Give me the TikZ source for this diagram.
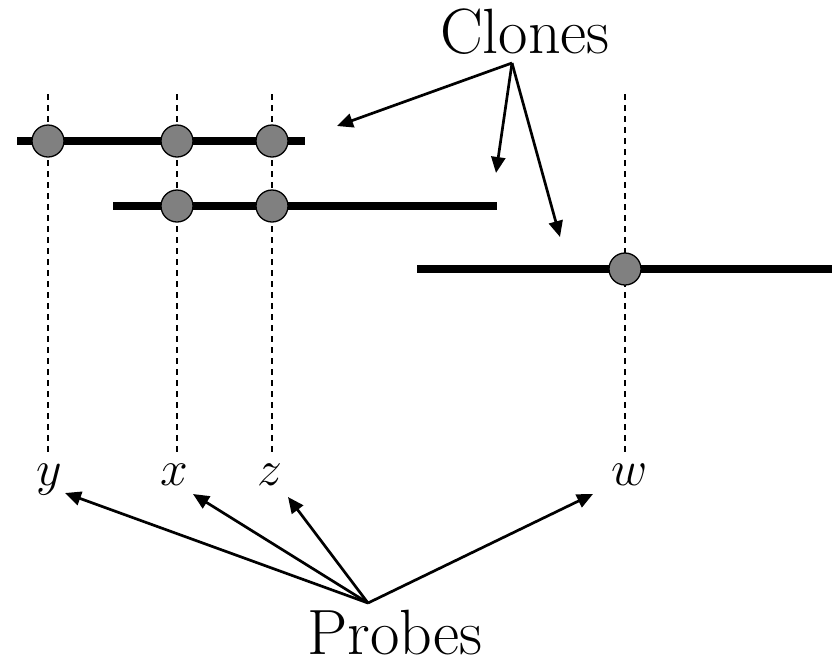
\documentclass[tikz,border=0pt]{standalone}
\usetikzlibrary{arrows.meta}
\definecolor{DotGray}{RGB}{128, 128, 128}

\begin{document}
\begin{tikzpicture}[x=0.5pt, y=-0.5pt,
    clone/.style={line width=4pt},
    probeline/.style={dash pattern=on 3pt off 2.5pt, line width=0.75pt},
    hit/.style={circle, draw, fill=DotGray, line width=0.65pt, minimum size=16pt, inner sep=0pt},
    pointer/.style={line width=1.35pt, -{Triangle[length=8pt, width=7pt]}},
    bigtext/.style={font=\fontsize{32}{38}\selectfont, anchor=base, inner sep=1pt},
    varname/.style={font=\fontsize{37}{44}\selectfont, anchor=base}]

\useasboundingbox (0,0) rectangle (836,665);

% Probes: dashed guide with its variable below
\foreach \name/\px/\lx in {y/48/49, x/177/174, z/272/270, w/625/630}{
    \node[varname] (l\name) at (\lx,485) {$\name$};
    \coordinate (t\name) at (\px,94);
    \draw[probeline] (t\name) -- (t\name |- l\name.north);
}

% Clones
\draw[clone] (17,141) -- (305,141);
\draw[clone] (113,206) -- (497,206);
\draw[clone] (417,269) -- (832,269);

% Hits of probes on clones
\foreach \px in {48,177,272}
    \node[hit] (a\px) at (\px,141) {};
\foreach \px in {177,272}
    \node[hit] (b\px) at (\px,206) {};
\node[hit] (c625) at (625,269) {};

% Labels
\node[bigtext] (clones) at (525,53) {Clones};
\node[bigtext] (probes) at (395,654) {Probes};

\coordinate (chub) at (512,63);
\coordinate (phub) at (368,603);

% Clones pointers
\coordinate (cp1) at (337,126);
\coordinate (cp2) at (496,173);
\coordinate (cp3) at (560,237);
\foreach \t in {cp1,cp2,cp3}
    \draw[pointer] (chub) -- (\t);

% Probes pointers
\coordinate (py) at (65,493);
\coordinate (px) at (193,494);
\coordinate (pz) at (288,497);
\coordinate (pw) at (593,494);
\foreach \t in {py,px,pz,pw}
    \draw[pointer] (phub) -- (\t);

\end{tikzpicture}
\end{document}
